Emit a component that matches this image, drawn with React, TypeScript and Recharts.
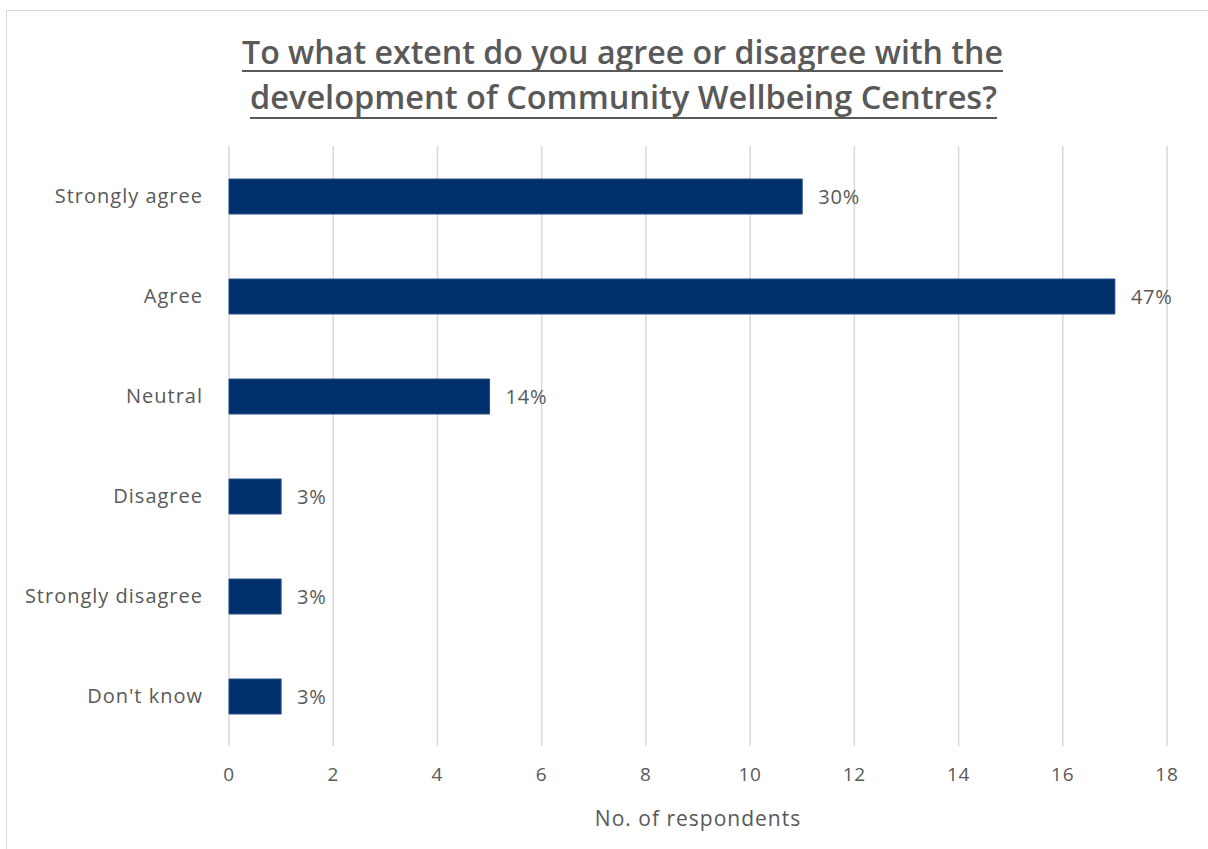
import React from 'react';
import { BarChart, Bar, XAxis, YAxis, CartesianGrid, LabelList } from 'recharts';

const categories = ['Strongly agree', 'Agree', 'Neutral', 'Disagree', 'Strongly disagree', "Don't know"];
const respondents = [11, 17, 5, 1, 1, 1];
const percentLabels = ['30%', '47%', '14%', '3%', '3%', '3%'];
const xTicks = [0, 2, 4, 6, 8, 10, 12, 14, 16, 18];
const titleLines = ['To what extent do you agree or disagree with the', 'development of Community Wellbeing Centres?'];

const data = categories.map((name, i) => ({ name, value: respondents[i], pct: percentLabels[i] }));

const GRAY = '#595959';
const FONT = '"Open Sans", sans-serif';

export default function App() {
  return (
    <div style={{ position: 'absolute', left: 0, top: 0, width: 1208, height: 849, background: '#fff', overflow: 'hidden' }}>
      <div style={{ position: 'absolute', left: 6, top: 10, width: 1220, height: 860, border: '1px solid #d9d9d9' }} />
      <div style={{ position: 'absolute', left: 0, top: 0 }}>
        <BarChart
          width={1208}
          height={849}
          data={data}
          layout="vertical"
          margin={{ top: 146, right: 41, bottom: 19, left: 0 }}
          barCategoryGap={0}
        >
          <CartesianGrid horizontal={false} stroke="#d9d9d9" strokeWidth={1.5} />
          <XAxis
            type="number"
            domain={[0, 18]}
            ticks={xTicks}
            axisLine={false}
            tickLine={false}
            tickSize={0}
            tickMargin={22}
            height={84}
            tick={{ fill: GRAY, fontSize: 19, fontFamily: FONT, letterSpacing: 0.8 }}
            label={{ value: 'No. of respondents', position: 'insideBottom', offset: 4, fill: GRAY, fontSize: 21, fontFamily: FONT, letterSpacing: 1 }}
          />
          <YAxis
            type="category"
            dataKey="name"
            width={229}
            axisLine={false}
            tickLine={false}
            tickSize={0}
            tickMargin={26}
            tick={{ fill: GRAY, fontSize: 20, fontFamily: FONT, letterSpacing: 1 }}
          />
          <Bar dataKey="value" fill="#00306B" stroke="#2a4f85" strokeWidth={1} barSize={35} isAnimationActive={false}>
            <LabelList dataKey="pct" position="right" offset={16} fill={GRAY} fontSize={20} fontFamily={FONT} letterSpacing={0.8} />
          </Bar>
        </BarChart>
      </div>
      <svg width={1208} height={849} style={{ position: 'absolute', left: 0, top: 0, pointerEvents: 'none' }}>
        <text x={242} y={64} textLength={761} lengthAdjust="spacingAndGlyphs" fill={GRAY} fontSize={32} fontWeight={600} fontFamily={FONT}>
          {titleLines[0]}
        </text>
        <line x1={242} x2={1003} y1={71} y2={71} stroke={GRAY} strokeWidth={2} />
        <text x={250} y={109} textLength={747} lengthAdjust="spacingAndGlyphs" fill={GRAY} fontSize={32} fontWeight={600} fontFamily={FONT}>
          {titleLines[1]}
        </text>
        <line x1={250} x2={997} y1={118} y2={118} stroke={GRAY} strokeWidth={2} />
      </svg>
    </div>
  );
}
